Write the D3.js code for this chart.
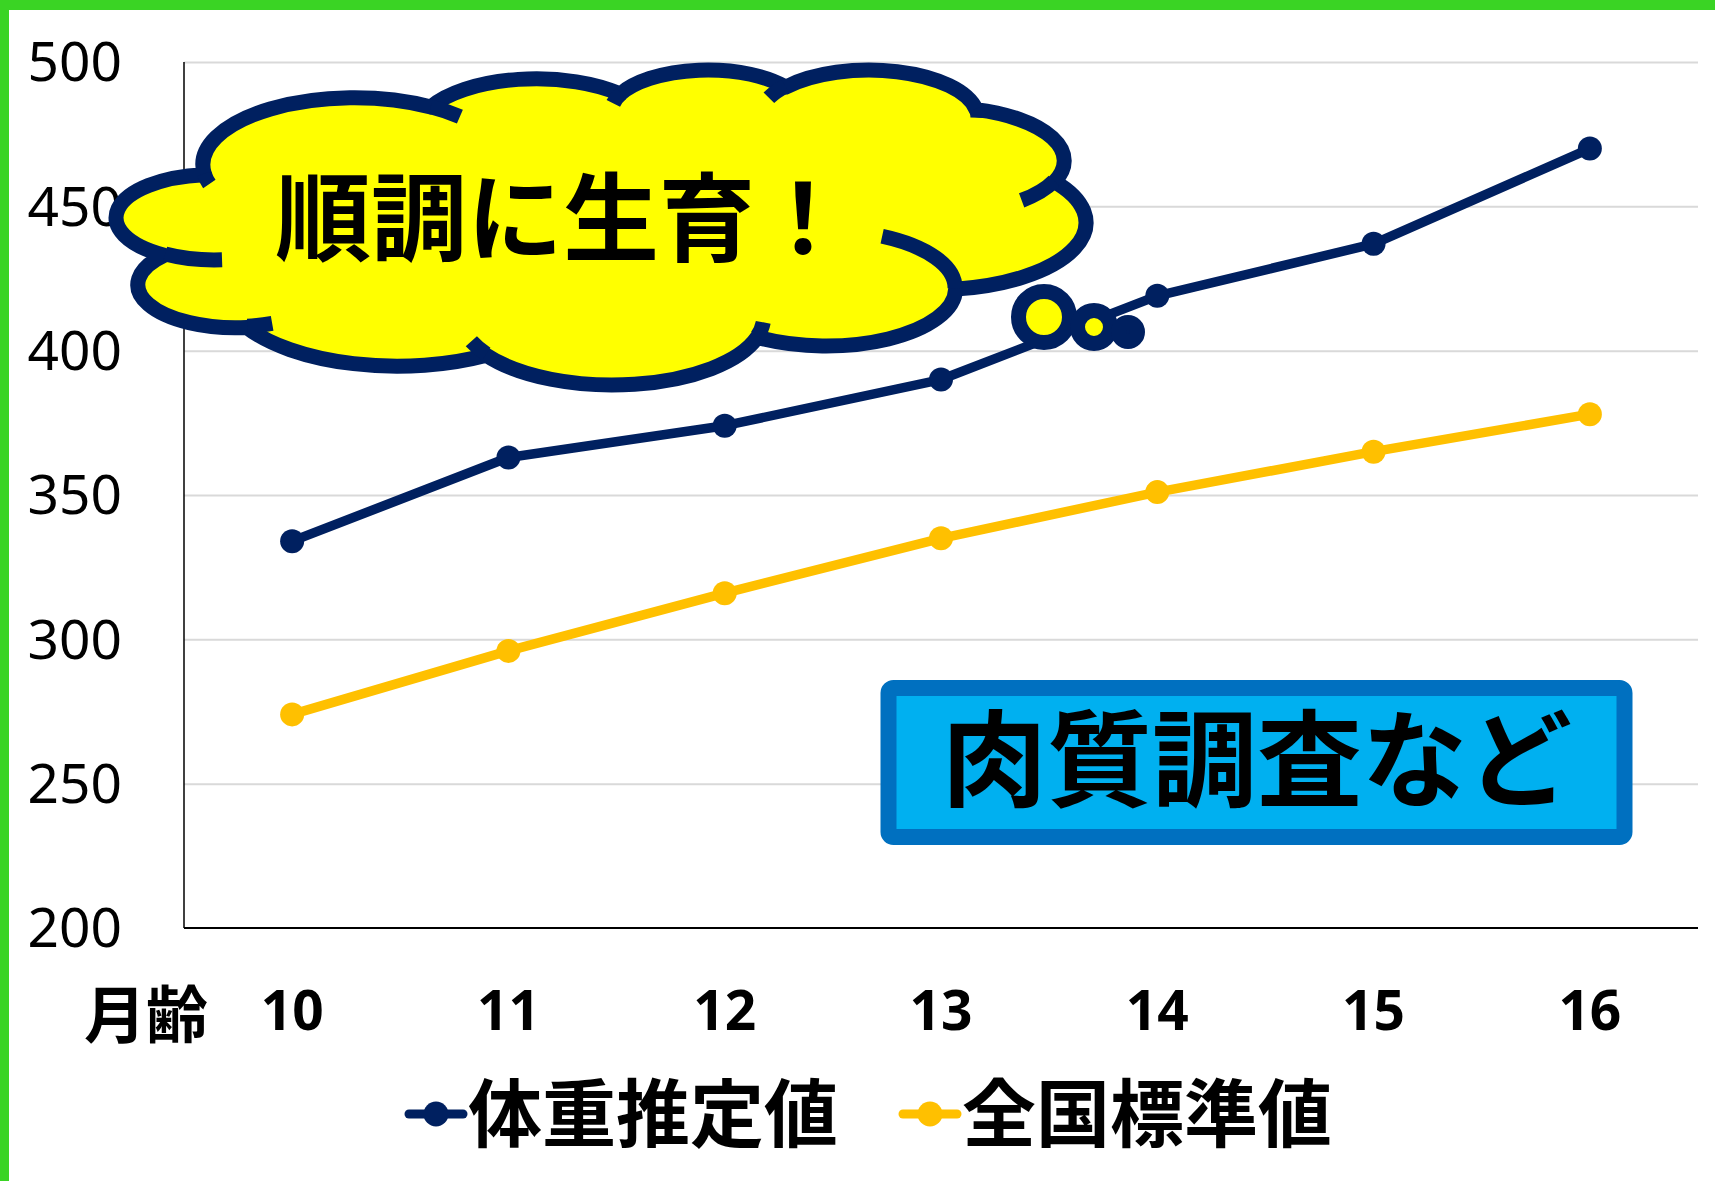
<!DOCTYPE html>
<html>
<head>
<meta charset="utf-8">
<script src="https://cdn.jsdelivr.net/npm/d3@7"></script>
<style>
  body { margin: 0; background: #fff; }
  svg { display: block; }
</style>
</head>
<body>
<div id="chart"></div>
<script>
// chart values
const months = [10, 11, 12, 13, 14, 15, 16];
const estimatedWeight = [334, 363, 374, 390, 419, 437, 470];
const nationalStandard = [274, 296, 316, 335, 351, 365, 378];
const yTicks = [200, 250, 300, 350, 400, 450, 500];
const seriesNames = ["体重推定値", "全国標準値"];
const seriesColors = ["#002060", "#FFC000"];
const xAxisTitle = "月齢";
const calloutText = "順調に生育！";
const boxText = "肉質調査など";

const W = 1715, H = 1181;
const margin = { top: 62, right: 17, bottom: 253, left: 184 };
const plotW = W - margin.left - margin.right;
const plotH = H - margin.top - margin.bottom;

const numFont = "'Noto Sans', 'Open Sans', sans-serif";
const jpFont = "'Noto Sans CJK JP', 'Noto Sans', sans-serif";
const navy = "#002060";

const svg = d3.select("#chart").append("svg")
  .attr("width", W).attr("height", H);

svg.append("rect").attr("width", W).attr("height", H).attr("fill", "#fff");

// green frame (top and left edges visible)
svg.append("rect").attr("x", 0).attr("y", 0).attr("width", W).attr("height", 10).attr("fill", "#3AD424");
svg.append("rect").attr("x", 0).attr("y", 0).attr("width", 9).attr("height", H).attr("fill", "#3AD424");

const plot = svg.append("g").attr("transform", `translate(${margin.left},${margin.top})`);

const x = d3.scaleBand().domain(months).range([0, plotW]);
const cx = d => x(d) + x.bandwidth() / 2;
const y = d3.scaleLinear().domain([200, 500]).range([plotH, 0]);

// y axis with gridlines
const yAxis = plot.append("g")
  .call(d3.axisLeft(y).tickValues(yTicks).tickSize(-plotW).tickPadding(62));
yAxis.select(".domain").remove();
yAxis.selectAll(".tick line")
  .attr("stroke", "#d9d9d9").attr("stroke-width", 2)
  .filter(d => d === 200).remove();
yAxis.selectAll(".tick text")
  .attr("font-family", numFont).attr("font-size", 55).attr("fill", "#000")
  .attr("dy", "0.34em");

// axis lines
plot.append("line").attr("x1", 0).attr("x2", 0).attr("y1", 0).attr("y2", plotH)
  .attr("stroke", "#000").attr("stroke-width", 1.5);
plot.append("line").attr("x1", 0).attr("x2", plotW).attr("y1", plotH).attr("y2", plotH)
  .attr("stroke", "#000").attr("stroke-width", 2);

// x axis labels
const xAxis = plot.append("g").attr("transform", `translate(0,${plotH})`)
  .call(d3.axisBottom(x).tickSize(0));
xAxis.select(".domain").remove();
xAxis.selectAll(".tick text")
  .attr("y", 82).attr("dy", "0.36em")
  .attr("font-family", numFont).attr("font-size", 55).attr("font-weight", "bold").attr("fill", "#000");

svg.append("text").attr("x", 146).attr("y", 1011)
  .attr("text-anchor", "middle").attr("dominant-baseline", "central")
  .attr("font-family", jpFont).attr("font-size", 62).attr("font-weight", "bold")
  .text(xAxisTitle);

// series
const series = [estimatedWeight, nationalStandard];
const line = d3.line().x((d, i) => cx(months[i])).y(d => y(d));
series.slice().reverse().forEach((vals, k) => {
  const color = seriesColors[series.length - 1 - k];
  plot.append("path").datum(vals)
    .attr("d", line).attr("fill", "none")
    .attr("stroke", color).attr("stroke-width", 9.5).attr("stroke-linejoin", "round");
  plot.selectAll(null).data(vals).join("circle")
    .attr("cx", (d, i) => cx(months[i])).attr("cy", d => y(d))
    .attr("r", 12).attr("fill", color);
});

// legend
const legendItems = [
  { name: seriesNames[0], color: seriesColors[0], x: 405 },
  { name: seriesNames[1], color: seriesColors[1], x: 899 }
];
legendItems.forEach(it => {
  const g = svg.append("g").attr("transform", `translate(${it.x},1114)`);
  g.append("line").attr("x1", 4).attr("x2", 58).attr("stroke", it.color)
    .attr("stroke-width", 9).attr("stroke-linecap", "round");
  g.append("circle").attr("cx", 31).attr("r", 12.5).attr("fill", it.color);
  g.append("text").attr("x", 63).attr("y", -6).attr("dominant-baseline", "central")
    .attr("font-family", jpFont).attr("font-size", 74).attr("font-weight", "bold")
    .attr("fill", "#000").text(it.name);
});

// blue box
svg.append("rect").attr("x", 888.5).attr("y", 688).attr("width", 736).attr("height", 149)
  .attr("rx", 5).attr("fill", "#00B0F0").attr("stroke", "#0070C0").attr("stroke-width", 16);
svg.append("text").attr("x", 1257).attr("y", 752)
  .attr("text-anchor", "middle").attr("dominant-baseline", "central")
  .attr("font-family", jpFont).attr("font-size", 105).attr("font-weight", "bold")
  .text(boxText);

// cloud callout: Office cloud geometry built in a square 43200 space, then stretched
function makeCloud() {
  let px = 0, py = 0, d = "";
  const moveTo = (mx, my) => { px = mx; py = my; d += `M${px},${py}`; };
  const arcTo = (a, b, st, sw) => {
    const s = st / 60000 * Math.PI / 180, e = (st + sw) / 60000 * Math.PI / 180;
    const ts = Math.atan2(a * Math.sin(s), b * Math.cos(s));
    const te = Math.atan2(a * Math.sin(e), b * Math.cos(e));
    const ox = px - a * Math.cos(ts), oy = py - b * Math.sin(ts);
    const nx = ox + a * Math.cos(te), ny = oy + b * Math.sin(te);
    const large = Math.abs(sw) / 60000 > 180 ? 1 : 0;
    d += `A${a},${b} 0 ${large} ${sw > 0 ? 1 : 0} ${nx},${ny}`;
    px = nx; py = ny;
  };
  moveTo(3900, 14370);
  arcTo(6753, 9190, -11429249, 7426832);
  arcTo(5333, 7267, -8646143, 5396714);
  arcTo(4365, 5945, -8748475, 5983381);
  arcTo(4857, 6595, -7859164, 7034504);
  arcTo(5333, 7273, -4722533, 6541615);
  arcTo(6775, 9220, -2776035, 7816140);
  arcTo(5785, 7867, 37501, 6842000);
  arcTo(6752, 9215, 1347096, 6910353);
  arcTo(7720, 10543, 3974558, 4542661);
  arcTo(4360, 5918, -16496525, 8804134);
  arcTo(4345, 5945, -14809710, 9151131);
  const outline = d + "Z";
  d = "";
  const inner = [
    [4693, 26177, 4345, 5945, 5204520, 1585770],
    [6928, 34899, 4360, 5918, 4416628, 686848],
    [16478, 39090, 6752, 9215, 8257449, 844866],
    [28827, 34751, 6752, 9215, 387196, 959901],
    [34129, 22954, 5785, 7867, -4217541, 4255042],
    [41798, 15354, 5333, 7273, 1819082, 1665090],
    [38324, 5426, 4857, 6595, -824660, 891534],
    [29078, 3952, 4857, 6595, -8950887, 1091722],
    [22141, 4720, 4365, 5945, -9809656, 1061181],
    [14000, 5192, 6753, 9190, -4002417, 739161],
    [4127, 15789, 6753, 9190, 9459261, 711490]
  ];
  inner.forEach(p => { moveTo(p[0], p[1]); arcTo(p[2], p[3], p[4], p[5]); });
  return { outline, inner: d };
}

const cloudG = svg.append("g");
// tail bubbles
const tail = [
  { x: 1044, y: 317, r: 25.5, fill: "#FFFF00" },
  { x: 1094, y: 327, r: 16.5, fill: "#FFFF00" },
  { x: 1128, y: 332, r: 9.5, fill: navy }
];
cloudG.selectAll(null).data(tail).join("circle")
  .attr("cx", d => d.x).attr("cy", d => d.y).attr("r", d => d.r)
  .attr("fill", d => d.fill).attr("stroke", navy).attr("stroke-width", 15);

const cloud = makeCloud();
const shapeG = cloudG.append("g");
const outlinePath = shapeG.append("path").attr("d", cloud.outline)
  .attr("fill", "#FFFF00").attr("stroke", navy).attr("stroke-width", 15)
  .attr("vector-effect", "non-scaling-stroke").attr("stroke-linejoin", "round");
shapeG.append("path").attr("d", cloud.inner)
  .attr("fill", "none").attr("stroke", navy).attr("stroke-width", 15)
  .attr("vector-effect", "non-scaling-stroke");
// stretch the outline's bounding box onto the target box
const bb = outlinePath.node().getBBox();
const target = { x1: 116, y1: 70, x2: 1086, y2: 385 };
const kx = (target.x2 - target.x1) / bb.width;
const ky = (target.y2 - target.y1) / bb.height;
shapeG.attr("transform",
  `translate(${target.x1 - bb.x * kx},${target.y1 - bb.y * ky}) scale(${kx},${ky})`);

cloudG.append("text").attr("x", 275).attr("y", 211)
  .attr("dominant-baseline", "central")
  .attr("font-family", jpFont).attr("font-size", 96).attr("font-weight", "bold")
  .text(calloutText);
</script>
</body>
</html>
